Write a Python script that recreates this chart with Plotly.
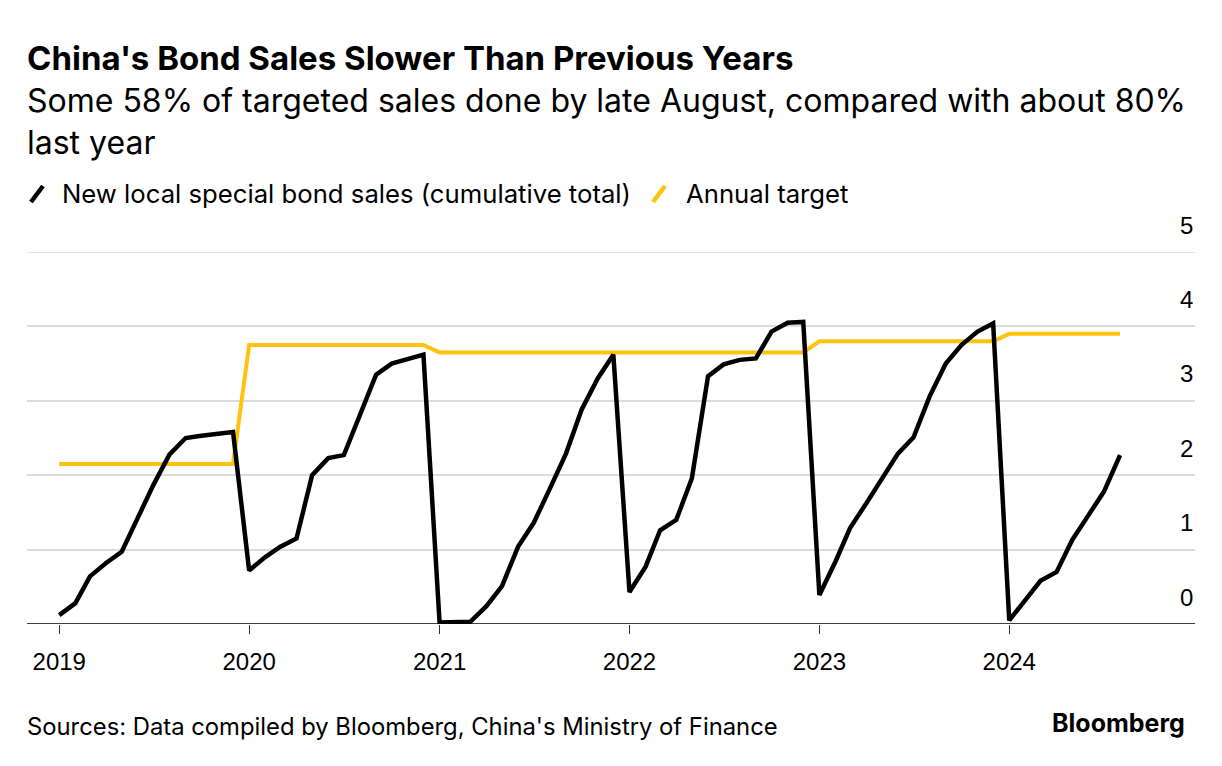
import plotly.graph_objects as go
import pandas as pd

# ---- Data (trillion yuan), monthly ----
dates = pd.date_range("2019-01-01", "2024-08-01", freq="MS")

sales = [
    # 2019
    0.12, 0.28, 0.64, 0.82, 0.97, 1.42, 1.87, 2.28, 2.50, 2.53, 2.55, 2.58,
    # 2020
    0.72, 0.90, 1.04, 1.15, 2.00, 2.23, 2.27, 2.83, 3.35, 3.50, 3.56, 3.62,
    # 2021
    0.02, 0.02, 0.03, 0.24, 0.51, 1.04, 1.36, 1.82, 2.29, 2.88, 3.30, 3.62,
    # 2022
    0.43, 0.77, 1.26, 1.40, 1.96, 3.33, 3.49, 3.55, 3.57, 3.93, 4.05, 4.06,
    # 2023
    0.39, 0.84, 1.29, 1.62, 1.94, 2.29, 2.51, 3.06, 3.50, 3.75, 3.93, 4.04,
    # 2024
    0.05, 0.32, 0.58, 0.70, 1.13, 1.46, 1.78, 2.27,
]

target_by_year = {2019: 2.15, 2020: 3.75, 2021: 3.65, 2022: 3.65, 2023: 3.8, 2024: 3.9}
target = [target_by_year[d.year] for d in dates]

y_ticks = [0, 1, 2, 3, 4, 5]
x_ticks = ["2019", "2020", "2021", "2022", "2023", "2024"]

title = "China's Bond Sales Slower Than Previous Years"
subtitle = "Some 58% of targeted sales done by late August, compared with about 80%<br>last year"
legend_names = ["New local special bond sales (cumulative total)", "Annual target"]
source = "Sources: Data compiled by Bloomberg, China's Ministry of Finance"

BLACK = "#000000"
YELLOW = "#FFC20E"
GRID = "#dcdcdc"
FONT = "Inter"
NUMFONT = "Liberation Sans"

OFF = 8  # page offset of the figure (body margin)
W, H = 1222 - 2 * OFF, 766 - 2 * OFF
# plot area in page pixels
PL, PR, PT, PB = 27, 1195, 252, 624
L, R, T, B = PL - OFF, W - (PR - OFF), PT - OFF, H - (PB - OFF)
PW = W - L - R
PH = H - T - B


def px(x):
    return (x - OFF - L) / PW


def py(y):
    return (H - B - (y - OFF)) / PH


fig = go.Figure()
fig.add_trace(go.Scatter(x=dates, y=target, mode="lines", name=legend_names[1],
                         line=dict(color=YELLOW, width=4), hoverinfo="skip"))
fig.add_trace(go.Scatter(x=dates, y=sales, mode="lines", name=legend_names[0],
                         line=dict(color=BLACK, width=4.5)))

fig.update_layout(
    width=W, height=H,
    margin=dict(l=L, r=R, t=T, b=B, pad=0),
    paper_bgcolor="white", plot_bgcolor="white",
    showlegend=False,
    font=dict(family=FONT, color="#000"),
    xaxis=dict(
        type="date",
        range=["2018-10-31", "2024-12-23"],
        tickvals=[f"{y}-01-01" for y in x_ticks],
        ticktext=x_ticks,
        ticks="outside", ticklen=9, tickwidth=1.2, tickcolor="#333",
        ticklabelstandoff=7,
        showgrid=False, zeroline=False,
        showline=False,
        tickfont=dict(size=24, family=NUMFONT, color="#000"),
    ),
    yaxis=dict(
        range=[0, 5],
        tickvals=y_ticks,
        showticklabels=False,
        showgrid=True, gridcolor=GRID, gridwidth=1.5,
        zeroline=False, showline=False, fixedrange=True,
    ),
)

# top gridline (at the edge of the range) and baseline
fig.add_shape(type="line", xref="paper", yref="y", x0=0, x1=1, y0=5, y1=5,
              line=dict(color=GRID, width=1.5), layer="below")
fig.add_shape(type="line", xref="paper", yref="y", x0=0, x1=1, y0=0, y1=0,
              line=dict(color="#000", width=1.5))

# y tick labels above gridlines, right-aligned
for v in y_ticks:
    fig.add_annotation(x=1, xref="paper", y=v, yref="y", text=str(v),
                       showarrow=False, xanchor="right", yanchor="middle",
                       yshift=27, font=dict(size=24, family=NUMFONT, color="#000"))

# title and subtitle
fig.add_annotation(x=px(25), y=py(58), xref="paper", yref="paper", text=f"<b>{title}</b>",
                   showarrow=False, xanchor="left", yanchor="middle",
                   font=dict(size=33, family=FONT, color="#000"))
fig.add_annotation(x=px(25), y=py(121), xref="paper", yref="paper", text=subtitle,
                   showarrow=False, xanchor="left", yanchor="middle", align="left",
                   font=dict(size=32, family=FONT, color="#000"))

# custom legend with slanted line markers
fig.add_shape(type="line", xref="paper", yref="paper",
              x0=px(31), y0=py(202), x1=px(43), y1=py(186),
              line=dict(color=BLACK, width=4.5))
fig.add_annotation(x=px(60), y=py(194), xref="paper", yref="paper", text=legend_names[0],
                   showarrow=False, xanchor="left", yanchor="middle",
                   font=dict(size=25.7, family=FONT, color="#000"))
fig.add_shape(type="line", xref="paper", yref="paper",
              x0=px(653), y0=py(202), x1=px(665), y1=py(186),
              line=dict(color=YELLOW, width=4.5))
fig.add_annotation(x=px(684), y=py(194), xref="paper", yref="paper", text=legend_names[1],
                   showarrow=False, xanchor="left", yanchor="middle",
                   font=dict(size=25.7, family=FONT, color="#000"))

# source and logo
fig.add_annotation(x=px(25), y=py(726), xref="paper", yref="paper", text=source,
                   showarrow=False, xanchor="left", yanchor="middle",
                   font=dict(size=23.8, family=FONT, color="#000"))
fig.add_annotation(x=px(1187), y=py(723), xref="paper", yref="paper", text="<b>Bloomberg</b>",
                   showarrow=False, xanchor="right", yanchor="middle",
                   font=dict(size=25, family=FONT, color="#000"))

fig.write_html("out.html")
